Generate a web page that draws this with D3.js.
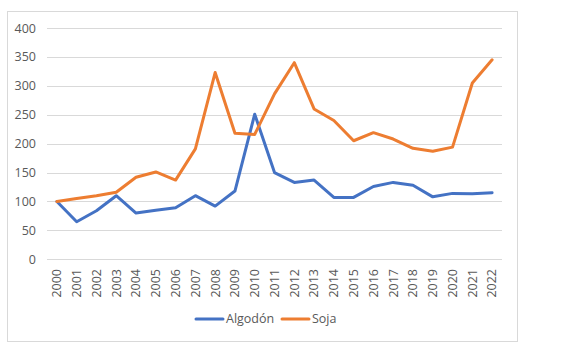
<!DOCTYPE html>
<html>
<head>
<meta charset="utf-8">
<script src="https://cdn.jsdelivr.net/npm/d3@7"></script>
<style>
html,body{margin:0;padding:0;background:#fff;}
svg{display:block;}
text{font-family:"Open Sans","Noto Sans",sans-serif;fill:#595959;}
</style>
</head>
<body>
<svg id="chart" width="564" height="349"></svg>
<script>
const years = ["2000","2001","2002","2003","2004","2005","2006","2007","2008","2009","2010","2011","2012","2013","2014","2015","2016","2017","2018","2019","2020","2021","2022"];
const algodon = [100,65,84,110,80,85,89,110,92,118,251,150,133,137,107,107,126,133,128,108,114,113.5,115];
const soja = [100,105,110,116,142,151,137,191,323,218,216,286,340,260,240,205,219,208,192,187,194,305,345];
const yTicks = [0,50,100,150,200,250,300,350,400];
const seriesNames = ["Algodón","Soja"];
const colors = ["#4472C4","#ED7D31"];

const svg = d3.select("#chart");
svg.append("rect").attr("x",7.5).attr("y",11.5).attr("width",510).attr("height",330)
  .attr("fill","#fff").attr("stroke","#d9d9d9").attr("stroke-width",1);

const x = d3.scaleBand().domain(years).range([47,502]);
const y = d3.scaleLinear().domain([0,400]).range([259.3,28]);

// gridlines
svg.append("g").selectAll("line").data(yTicks).join("line")
  .attr("x1",47).attr("x2",502)
  .attr("y1",d=>Math.round(y(d))+0.5).attr("y2",d=>Math.round(y(d))+0.5)
  .attr("stroke","#d9d9d9").attr("stroke-width",1);

// y axis
const yAxis = d3.axisLeft(y).tickValues(yTicks).tickSize(0).tickPadding(0);
const gy = svg.append("g").attr("transform","translate(36,0)").call(yAxis);
gy.select(".domain").remove();
gy.selectAll("text").attr("font-size","12.5px").attr("fill","#595959")
  .style("font-family","'Open Sans','Noto Sans',sans-serif");

// x axis
const xAxis = d3.axisBottom(x).tickSize(0).tickPadding(0);
const gx = svg.append("g").attr("transform","translate(0,268)").call(xAxis);
gx.select(".domain").remove();
gx.selectAll("text")
  .attr("font-size","12.5px").attr("fill","#595959")
  .style("font-family","'Open Sans','Noto Sans',sans-serif")
  .attr("transform","rotate(-90)")
  .attr("text-anchor","end").attr("x",-1).attr("y",0).attr("dy","0.35em");

// lines
const line = d3.line().x((d,i)=>x(years[i])+x.bandwidth()/2).y(d=>y(d));
[algodon,soja].forEach((s,i)=>{
  svg.append("path").datum(s).attr("d",line)
    .attr("fill","none").attr("stroke",colors[i]).attr("stroke-width",3)
    .attr("stroke-linejoin","round").attr("stroke-linecap","round");
});

// legend
const legendItems = [{x:196,name:seriesNames[0],c:colors[0]},{x:282,name:seriesNames[1],c:colors[1]}];
const lg = svg.append("g");
legendItems.forEach(it=>{
  lg.append("line").attr("x1",it.x).attr("x2",it.x+27).attr("y1",319).attr("y2",319)
    .attr("stroke",it.c).attr("stroke-width",3).attr("stroke-linecap","round");
  lg.append("text").attr("x",it.x+30).attr("y",319).attr("dy","0.35em")
    .attr("font-size","12.5px").text(it.name);
});
</script>
</body>
</html>
